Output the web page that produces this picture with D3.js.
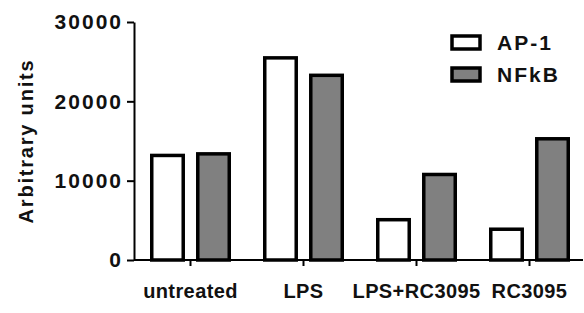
<!DOCTYPE html>
<html>
<head>
<meta charset="utf-8">
<script src="https://cdn.jsdelivr.net/npm/d3@7"></script>
<style>
  body { margin: 0; background: #fff; }
  text { font-family: "Liberation Sans", Arial, sans-serif; font-weight: bold; fill: #111; }
</style>
</head>
<body>
<div id="chart"></div>
<script>
// data
const categories = ['untreated', 'LPS', 'LPS+RC3095', 'RC3095'];
const series = ['AP-1', 'NFkB'];
const ap1Values = [13400, 25700, 5300, 4100];
const nfkbValues = [13600, 23500, 11000, 15500];
const yTicks = [0, 10000, 20000, 30000];
const seriesFill = {'AP-1': '#ffffff', 'NFkB': '#808080'};

const width = 584, height = 313;
const margin = {top: 22, left: 134, bottom: 53};

const svg = d3.select('#chart')
  .append('svg')
  .attr('width', width)
  .attr('height', height);

// Set the ranges
const x0 = d3.scaleBand().domain(categories).range([margin.left, margin.left + 113 * categories.length]);
const x1 = d3.scaleBand().domain(series).range([-40.5, 40.5]).paddingInner(0.24);
const y = d3.scaleLinear().domain([0, 30000]).range([height - margin.bottom, margin.top]);

const rows = categories.map((c, i) => ({cat: c, values: [ap1Values[i], nfkbValues[i]]}));

// bars
const groups = svg.selectAll('g.group')
  .data(rows)
  .enter()
  .append('g')
  .attr('class', 'group')
  .attr('transform', d => `translate(${x0(d.cat) + x0.bandwidth() / 2},0)`);

groups.selectAll('rect')
  .data(d => series.map((s, j) => ({s: s, v: d.values[j]})))
  .enter()
  .append('rect')
  .attr('x', d => x1(d.s) + 1.75)
  .attr('width', x1.bandwidth() - 3.5)
  .attr('y', d => y(d.v) + 1.75)
  .attr('height', d => y(0) - y(d.v) - 1.75)
  .style('fill', d => seriesFill[d.s])
  .style('stroke', '#000')
  .style('stroke-width', 3.5);

// Add the X Axis
const xAxis = d3.axisBottom(x0).tickSize(6).tickSizeOuter(0).tickPadding(18);
const gx = svg.append('g')
  .attr('class', 'x axis')
  .attr('transform', `translate(0,${y(0)})`)
  .call(xAxis);
gx.select('.domain').attr('d', `M${margin.left},0H583`);
gx.selectAll('text').style('font-size', '20px').style('letter-spacing', '0.4px');

// Add the Y Axis
const yAxis = d3.axisLeft(y).tickValues(yTicks).tickFormat(d3.format('d'))
  .tickSize(7).tickSizeOuter(0).tickPadding(4);
const gy = svg.append('g')
  .attr('class', 'y axis')
  .attr('transform', `translate(${margin.left},0)`)
  .call(yAxis);
gy.selectAll('text').style('font-size', '21px').style('letter-spacing', '2px');

svg.selectAll('.axis path, .axis line')
  .style('stroke', '#000')
  .style('stroke-width', 2);

// y title
svg.append('text')
  .attr('transform', `translate(33,${(y(0) + y(30000)) / 2}) rotate(-90)`)
  .attr('text-anchor', 'middle')
  .style('font-size', '20px')
  .style('letter-spacing', '1.8px')
  .text('Arbitrary units');

// legend
const legend = svg.selectAll('g.legend')
  .data(series)
  .enter()
  .append('g')
  .attr('class', 'legend')
  .attr('transform', (d, i) => `translate(452,${36 + i * 32})`);

legend.append('rect')
  .attr('width', 28)
  .attr('height', 13)
  .style('fill', d => seriesFill[d])
  .style('stroke', '#000')
  .style('stroke-width', 3.5);

legend.append('text')
  .attr('x', 45)
  .attr('y', 7)
  .attr('dy', '0.35em')
  .style('font-size', '21px')
  .style('letter-spacing', '2px')
  .text(d => d);
</script>
</body>
</html>
